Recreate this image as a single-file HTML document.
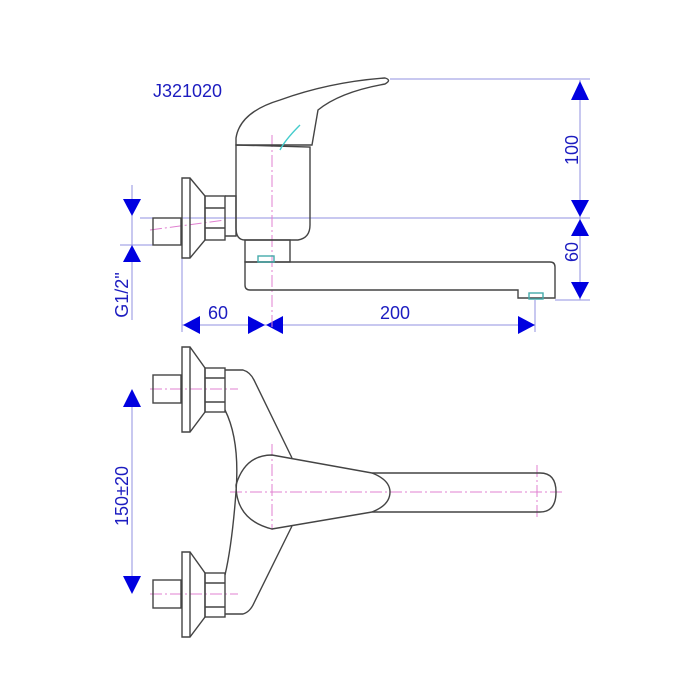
<!DOCTYPE html>
<html><head><style>body{margin:0;background:#fff}svg{display:block}</style></head><body>
<svg width="700" height="700" viewBox="0 0 700 700" xmlns="http://www.w3.org/2000/svg" font-family="Liberation Sans, sans-serif">
<rect width="700" height="700" fill="#fff"/>
<g stroke="#9090e0" stroke-width="1" fill="none">
<line x1="390" y1="79" x2="590" y2="79"/>
<line x1="580" y1="80" x2="580" y2="300"/>
<line x1="140" y1="218" x2="590" y2="218"/>
<line x1="555" y1="300" x2="590" y2="300"/>
<line x1="132" y1="185" x2="132" y2="320"/>
<line x1="120" y1="245" x2="153" y2="245"/>
<line x1="182" y1="255" x2="182" y2="332"/>
<line x1="535" y1="300" x2="535" y2="332"/>
<line x1="182" y1="325" x2="535" y2="325"/>
<line x1="132" y1="390" x2="132" y2="593"/>
</g>
<g fill="#0000e0">
<polygon points="571,100 589,100 580,81"/>
<polygon points="571,200 589,200 580,217"/>
<polygon points="571,236 589,236 580,219"/>
<polygon points="571,282 589,282 580,299"/>
<polygon points="123,199 141,199 132,216"/>
<polygon points="123,262 141,262 132,245"/>
<polygon points="200,316 200,334 183,325"/>
<polygon points="248,316 248,334 265,325"/>
<polygon points="283,316 283,334 266,325"/>
<polygon points="518,316 518,334 535,325"/>
<polygon points="123,407 141,407 132,389"/>
<polygon points="123,576 141,576 132,594"/>
</g>
<g fill="#1c1cc0" font-size="18">
<text x="153" y="97">J321020</text>
<text x="208" y="319">60</text>
<text x="380" y="319">200</text>
<text transform="translate(578,150) rotate(-90)" text-anchor="middle">100</text>
<text transform="translate(578,252) rotate(-90)" text-anchor="middle">60</text>
<text transform="translate(128,295) rotate(-90)" text-anchor="middle">G1/2"</text>
<text transform="translate(128,496) rotate(-90)" text-anchor="middle">150±20</text>
</g>
<g stroke="#e080d0" stroke-width="1" fill="none" stroke-dasharray="12,3,2,3">
<line x1="272" y1="135" x2="272" y2="330"/>
<line x1="150" y1="230" x2="225" y2="220"/>
<line x1="150" y1="389" x2="238" y2="389"/>
<line x1="150" y1="594" x2="238" y2="594"/>
<line x1="230" y1="492" x2="565" y2="492"/>
<line x1="272" y1="444" x2="272" y2="530"/>
<line x1="537" y1="465" x2="537" y2="520"/>
</g>
<g stroke="#444" stroke-width="1.4" fill="none">
<path d="M236,138 Q240,112 280,100 Q330,82 385,78 Q392,80 385,84 Q340,92 318,110 L312,145 L236,145 Z"/>
<path d="M236,145 L310,147 L310,225 Q310,238 298,240 L245,240 Q236,240 236,228 Z"/>
<path d="M225,196 L236,196 L236,236 L225,236"/>
<rect x="205" y="196" width="20" height="44"/>
<line x1="205" y1="208" x2="225" y2="208"/><line x1="205" y1="228" x2="225" y2="228"/>
<path d="M182,178 L190,178 L205,196 L205,240 L190,258 L182,258 Z"/>
<line x1="190" y1="178" x2="190" y2="258"/>
<rect x="153" y="218" width="28" height="27"/>
<rect x="245" y="240" width="45" height="22"/>
<path d="M245,262 L550,262 Q555,262 555,267 L555,298 L518,298 L518,290 L250,290 Q245,290 245,285 Z"/>
<rect x="258" y="256" width="16" height="6" stroke="#4aa"/>
<rect x="529" y="293" width="14" height="6" stroke="#4aa"/>
<path d="M300,125 Q285,140 280,150" stroke="#4cc"/>
<g id="v">
<path d="M182,347 L190,347 L205,368 L205,412 L190,432 L182,432 Z"/>
<line x1="190" y1="347" x2="190" y2="432"/>
<rect x="205" y="368" width="20" height="44"/>
<line x1="205" y1="378" x2="225" y2="378"/><line x1="205" y1="402" x2="225" y2="402"/>
<rect x="153" y="375" width="28" height="28"/>
</g>
<use href="#v" transform="translate(0,205)"/>
<path d="M225,370 L243,370 Q250,372 254,380 L292,458"/>
<path d="M292,526 L254,603 Q250,612 243,614 L225,614"/>
<path d="M225,410 Q240,440 236,492 Q232,545 225,575"/>
<path d="M272,455 Q245,455 236,485 Q236,520 272,529 L372,512 L540,512 Q556,512 556,492 Q556,473 540,473 L372,473 Z"/>
<path d="M372,473 Q390,480 390,492 Q390,505 372,512"/>
</g>
</svg>
</body></html>
